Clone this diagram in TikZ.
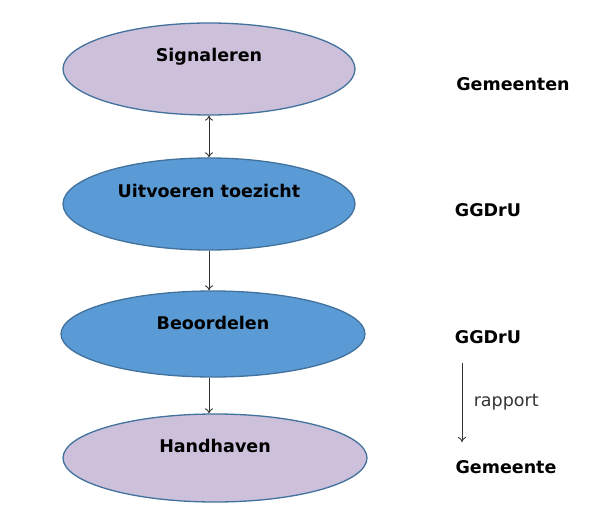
\documentclass[tikz,border=0pt]{standalone}
\usepackage{fontspec}
\setmainfont{DejaVu Sans}
\usetikzlibrary{shapes.geometric,arrows.meta}

\definecolor{lila}{HTML}{CCC0DA}
\definecolor{midblue}{HTML}{5B9BD5}
\definecolor{rimblue}{HTML}{41719C}

\begin{document}
\begin{tikzpicture}[x=1pt,y=-1pt,>={To[length=5pt,width=8pt]}]
	\tikzset{stap/.style={ellipse,draw=rimblue,line width=1.3pt,inner sep=0pt,
		minimum width=292pt,minimum height=92pt,text height=13pt,text depth=27pt,
		font=\fontsize{17.5}{20}\selectfont\bfseries}}
	\tikzset{wie/.style={font=\fontsize{17.5}{20}\selectfont\bfseries}}
	\tikzset{pijl/.style={->,line width=0.9pt,black!80}}

	\useasboundingbox (0,0) rectangle (595,519);

	% stappen
	\node[stap,fill=lila] (sig) at (209,69) {Signaleren};
	\node[stap,fill=midblue] (uit) at (209,204) {Uitvoeren toezicht};
	\node[stap,fill=midblue,minimum width=304pt,minimum height=86pt,text depth=23pt] (beo) at (213,334) {Beoordelen};
	\node[stap,fill=lila,minimum width=304pt,minimum height=88pt,text depth=24pt] (hand) at (215,458) {Handhaven};

	\draw[pijl,<->] (sig.south) -- (uit.north);
	\draw[pijl] (uit.south) -- (uit.south |- beo.north);
	\draw[pijl] (uit.south |- beo.south) -- (uit.south |- hand.north);

	% wie doet wat
	\node[wie] (gem1) at (513,84) {Gemeenten};
	\node[wie] (ggd1) at (488,210) {GGDrU};
	\node[wie] (ggd2) at (488,337) {GGDrU};
	\node[wie] (gem2) at (506,467) {Gemeente};

	\coordinate (rap1) at (462,363);
	\coordinate (rap2) at (462,442);
	\draw[pijl] (rap1) -- node[right=8pt,font=\fontsize{17.5}{20}\selectfont] {rapport} (rap2);

\end{tikzpicture}
\end{document}
